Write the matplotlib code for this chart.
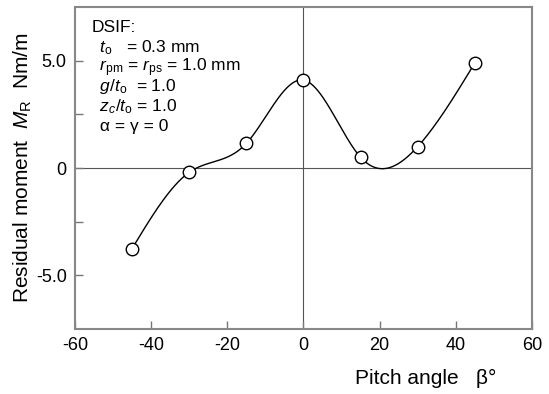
import numpy as np
import matplotlib
matplotlib.use("Agg")
import matplotlib.pyplot as plt

# data
pitch_angle = [-45, -30, -15, 0, 15, 30, 45]
residual_moment = [-3.75, -0.2, 1.15, 4.1, 0.5, 1.0, 4.9]

x_ticks = [-60, -40, -20, 0, 20, 40, 60]
y_ticks = [-5.0, 0.0, 5.0]
y_tick_labels = ["-5.0", "0", "5.0"]
y_minor = [-2.5, 2.5]

info_lines = [
    "DSIF:",
    r" $t_{\mathrm{o}}$   = 0.3 mm",
    r" $r_{\mathrm{pm}}$ = $r_{\mathrm{ps}}$ = 1.0 mm",
    r" $g/t_{\mathrm{o}}$  = 1.0",
    r" $z_{c}/t_{\mathrm{o}}$ = 1.0",
    " α = γ = 0",
]

plt.rcParams["font.family"] = ["Liberation Sans", "DejaVu Sans"]
plt.rcParams["mathtext.fontset"] = "custom"
plt.rcParams["mathtext.rm"] = "Liberation Sans"
plt.rcParams["mathtext.it"] = "Liberation Sans:italic"
plt.rcParams["axes.unicode_minus"] = False


def natural_spline(x, y, n=400):
    """Natural cubic spline through the points (no scipy needed)"""
    x = np.asarray(x, float)
    y = np.asarray(y, float)
    k = len(x)
    h = np.diff(x)
    A = np.zeros((k, k))
    b = np.zeros(k)
    A[0, 0] = A[-1, -1] = 1.0
    for i in range(1, k - 1):
        A[i, i - 1] = h[i - 1]
        A[i, i] = 2 * (h[i - 1] + h[i])
        A[i, i + 1] = h[i]
        b[i] = 6 * ((y[i + 1] - y[i]) / h[i] - (y[i] - y[i - 1]) / h[i - 1])
    m = np.linalg.solve(A, b)
    xs = np.linspace(x[0], x[-1], n)
    idx = np.clip(np.searchsorted(x, xs) - 1, 0, k - 2)
    x0, x1 = x[idx], x[idx + 1]
    hh = x1 - x0
    t0, t1 = x1 - xs, xs - x0
    ys = (m[idx] * t0**3 + m[idx + 1] * t1**3) / (6 * hh) \
        + (y[idx] / hh - m[idx] * hh / 6) * t0 \
        + (y[idx + 1] / hh - m[idx + 1] * hh / 6) * t1
    return xs, ys


fig = plt.figure(figsize=(5.49, 3.94), dpi=100)
ax = fig.add_axes([0.1366, 0.165, 0.8324, 0.817])

ax.axhline(0, color="#555555", lw=0.8, zorder=1)
ax.axvline(0, color="#555555", lw=0.8, zorder=1)

xs, ys = natural_spline(pitch_angle, residual_moment)
ax.plot(xs, ys, color="black", lw=1.0, zorder=2)
ax.plot(pitch_angle, residual_moment, "o", ms=9, mfc="white", mec="black",
        mew=1.0, zorder=3)

ax.set_xlim(-60, 60)
ax.set_ylim(-7.5, 7.5)
ax.set_xticks(x_ticks)
ax.set_xticklabels([str(v) for v in x_ticks])
ax.set_yticks(y_ticks)
ax.set_yticklabels(y_tick_labels)
ax.set_yticks(y_minor, minor=True)
ax.tick_params(which="both", direction="in", length=6, width=1.0,
               color="#777777", labelsize=13, pad=6)

for s in ax.spines.values():
    s.set_color("#888888")
    s.set_linewidth(1.5)

ax.set_ylabel(r"Residual moment  $M_{\mathrm{R}}$  Nm/m", fontsize=15, labelpad=1)
fig.text(0.775, 0.04, "Pitch angle   β°", fontsize=15, ha="center", va="center")

for i, line in enumerate(info_lines):
    fig.text(92 / 549 if i == 0 else 95 / 549, 1 - (28 + 19.6 * i) / 394, line,
             fontsize=12.5, va="center", ha="left")

fig.savefig("out.png", dpi=100)
